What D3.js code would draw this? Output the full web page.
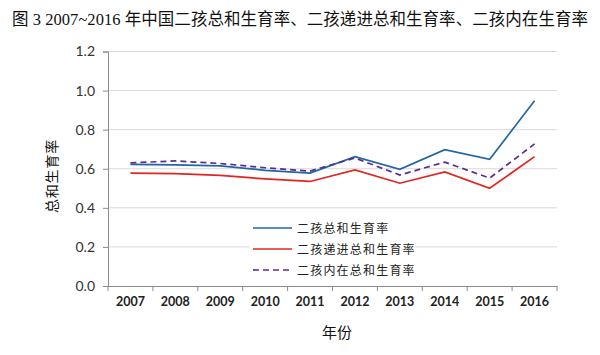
<!DOCTYPE html>
<html><head><meta charset="utf-8">
<script src="https://cdn.jsdelivr.net/npm/d3@7"></script>
<style>body{margin:0;background:#fff}svg{display:block}</style>
</head><body>
<svg id="c" width="600" height="355"></svg>
<script>
const years = ["2007","2008","2009","2010","2011","2012","2013","2014","2015","2016"];
const seriesNames = ["二孩总和生育率","二孩递进总和生育率","二孩内在总和生育率"];
const total = [0.622,0.620,0.615,0.592,0.578,0.662,0.597,0.698,0.648,0.948];
const progressive = [0.578,0.575,0.566,0.548,0.535,0.594,0.526,0.584,0.500,0.662];
const intrinsic = [0.630,0.640,0.627,0.605,0.588,0.655,0.568,0.634,0.552,0.727];
const yTicks = [0,0.2,0.4,0.6,0.8,1.0,1.2];
const colors = ["#2166a5","#e42421","#5a2d91"];

const svg = d3.select("#c");
const x = d3.scaleBand().domain(years).range([108,557]);
const y = d3.scaleLinear().domain([0,1.2]).range([286,51.5]);

svg.append("text").attr("x",12).attr("y",25)
  .attr("font-family","'Liberation Serif','Noto Sans CJK SC',serif")
  .attr("font-size",16.5).attr("fill","#111")
  .attr("textLength",576).attr("lengthAdjust","spacing")
  .text("图 3 2007~2016 年中国二孩总和生育率、二孩递进总和生育率、二孩内在生育率");

// gridlines
svg.append("g").selectAll("line").data(yTicks.slice(1)).join("line")
  .attr("x1",108).attr("x2",557).attr("y1",d=>y(d)).attr("y2",d=>y(d))
  .attr("stroke","#d9d9d9").attr("stroke-width",1);

const yAxis = svg.append("g").attr("transform","translate(108,0)")
  .call(d3.axisLeft(y).tickValues(yTicks).tickFormat(d3.format(".1f")).tickSize(5).tickPadding(8));
yAxis.select(".domain").attr("stroke","#8c8c8c");
yAxis.selectAll(".tick line").attr("stroke","#8c8c8c");
yAxis.selectAll("text").attr("font-family","Lato,'Open Sans',sans-serif").attr("font-size",14).attr("fill","#333");

const xAxis = svg.append("g").attr("transform","translate(0,286)")
  .call(d3.axisBottom(x).tickSize(0).tickPadding(11));
xAxis.select(".domain").attr("stroke","#8c8c8c");
xAxis.selectAll("text").attr("font-family","Lato,'Open Sans',sans-serif").attr("font-size",12.5).attr("font-weight","bold").attr("fill","#222");
xAxis.append("g").selectAll("line").data(years.concat(["end"])).join("line")
  .attr("x1",(d,i)=>108+i*x.step()).attr("x2",(d,i)=>108+i*x.step())
  .attr("y1",0).attr("y2",5).attr("stroke","#8c8c8c");

const line = d3.line().x((d,i)=>x(years[i])+x.bandwidth()/2).y(d=>y(d));
const data = [total,progressive,intrinsic];
data.forEach((s,i)=>{
  svg.append("path").datum(s).attr("d",line).attr("fill","none")
    .attr("stroke",colors[i]).attr("stroke-width",1.7)
    .attr("stroke-dasharray", i===2 ? "6,4" : null);
});

// legend
const lg = svg.append("g");
lg.append("rect").attr("x",250).attr("y",216).attr("width",154).attr("height",64).attr("fill","#fff");
seriesNames.forEach((n,i)=>{
  const yy = 228 + i*21;
  lg.append("line").attr("x1",253).attr("x2",292).attr("y1",yy).attr("y2",yy)
    .attr("stroke",colors[i]).attr("stroke-width",1.7).attr("stroke-dasharray", i===2?"6,4":null);
  lg.append("text").attr("x",297).attr("y",yy+4.5).attr("font-family","'Noto Sans CJK SC',sans-serif")
    .attr("font-size",12).attr("letter-spacing",1.2).attr("fill","#222").text(n);
});

svg.append("text").attr("transform","translate(57,176) rotate(-90)").attr("text-anchor","middle")
  .attr("font-family","'Noto Sans CJK SC',sans-serif").attr("font-size",14).attr("letter-spacing",0.8).attr("fill","#111").text("总和生育率");
svg.append("text").attr("x",337).attr("y",338).attr("text-anchor","middle")
  .attr("font-family","'Noto Sans CJK SC',sans-serif").attr("font-size",15).attr("fill","#111").text("年份");
</script>
</body></html>
